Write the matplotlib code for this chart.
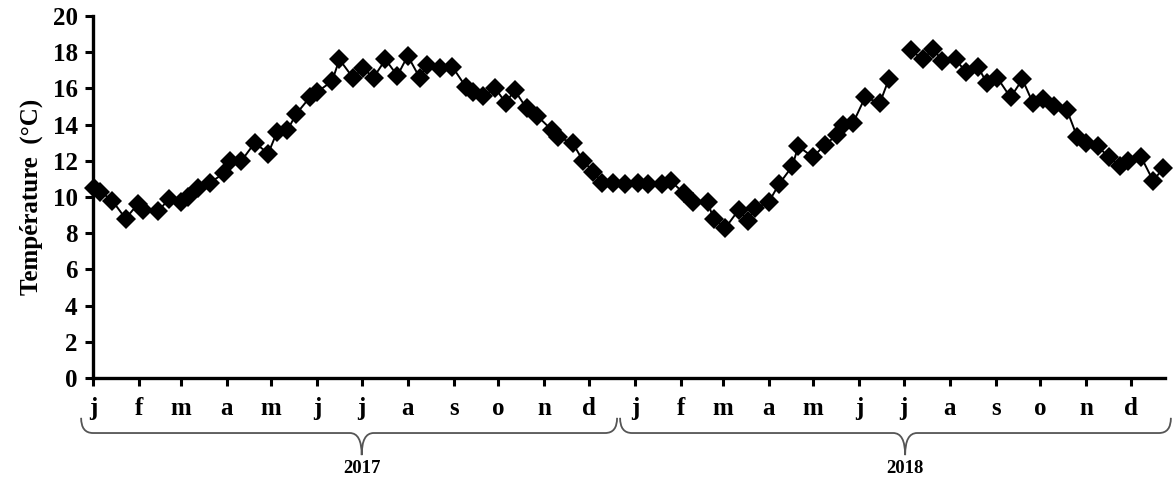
import matplotlib
matplotlib.use("Agg")
import matplotlib.pyplot as plt
import matplotlib.dates as mdates
import matplotlib.transforms as mtransforms
from matplotlib.path import Path
from matplotlib.patches import PathPatch
import numpy as np
import pandas as pd

# sampling day (days since 1 Jan 2017) and water temperature (degC)
start = pd.Timestamp("2017-01-01")
day = [1, 5, 13, 22, 30, 34, 44, 51, 59, 64, 71, 79, 88, 92, 100, 109, 118, 124,
       131, 137, 146, 151, 161, 166, 175, 182, 189, 197, 205, 212, 220, 225, 234,
       242, 251, 256, 263, 271, 278, 284, 292, 299, 309, 313, 323, 330, 337, 343,
       350, 358, 367, 374, 383, 389, 398, 404, 414, 418, 426, 435, 441, 446, 455,
       462, 471, 475, 485, 493, 501, 505, 512, 520, 530, 536, 551, 559, 566, 572,
       581, 588, 596, 602, 609, 618, 626, 633, 640, 647, 656, 663, 669, 677, 684,
       692, 697, 706, 714, 721]
temp = [10.5, 10.3, 9.8, 8.8, 9.6, 9.3, 9.2, 9.9, 9.7, 10.0, 10.5, 10.8, 11.3,
        12.0, 12.0, 13.0, 12.4, 13.6, 13.7, 14.6, 15.5, 15.8, 16.4, 17.6, 16.6,
        17.1, 16.6, 17.6, 16.7, 17.8, 16.6, 17.3, 17.1, 17.2, 16.1, 15.8, 15.6,
        16.0, 15.2, 15.9, 14.9, 14.5, 13.7, 13.3, 13.0, 12.0, 11.4, 10.8, 10.8,
        10.7, 10.8, 10.7, 10.7, 10.9, 10.2, 9.7, 9.7, 8.8, 8.3, 9.3, 8.7, 9.4,
        9.7, 10.7, 11.7, 12.8, 12.2, 12.9, 13.4, 14.0, 14.1, 15.5, 15.2, 16.5,
        18.1, 17.6, 18.2, 17.5, 17.6, 16.9, 17.2, 16.3, 16.6, 15.5, 16.5, 15.2,
        15.4, 15.0, 14.8, 13.3, 13.0, 12.8, 12.2, 11.7, 12.0, 12.2, 10.9, 11.6]

month_labels = list("jfmamjjasond") * 2
years = ["2017", "2018"]
year_spans = [("2016-12-24", "2017-07-01", "2017-12-20"),
              ("2017-12-22", "2018-07-02", "2018-12-28")]

plt.rcParams["font.family"] = ["Liberation Serif", "DejaVu Serif"]
plt.rcParams["font.weight"] = "bold"

fig = plt.figure(figsize=(11.74, 4.83), dpi=100)
ax = fig.add_axes([0.0792, 0.2174, 0.9131, 0.7495])

day = np.array(day)
temp = np.array(temp)
t = start + pd.to_timedelta(day, unit="D")

# break the line where a sample is missing
gaps = np.where(np.diff(day) > 12)[0]
for seg in np.split(np.arange(len(day)), gaps + 1):
    ax.plot(t[seg], temp[seg], color="black", lw=1.4, marker="D", ms=10,
            markeredgewidth=0, clip_on=False, zorder=3)

ax.set_ylim(0, 20)
ax.set_yticks(range(0, 21, 2))
ax.set_xlim(start, start + pd.Timedelta(days=722))
month_ticks = pd.date_range("2017-01-01", "2018-12-01", freq="MS")
ax.set_xticks(month_ticks)
ax.set_xticklabels(month_labels)

for side in ["top", "right"]:
    ax.spines[side].set_visible(False)
for side in ["left", "bottom"]:
    ax.spines[side].set_linewidth(2.4)
ax.tick_params(axis="both", width=2.2, length=6, labelsize=18)
ax.tick_params(axis="x", pad=8)
ax.tick_params(axis="y", pad=5)
ax.set_ylabel("Température  (°C)", fontsize=18, fontweight="bold", labelpad=7)

# year braces under the month labels
trans = mtransforms.blended_transform_factory(ax.transData, ax.transAxes)
y_end, y_line, y_tip = -0.110, -0.152, -0.213
for label, (a, m, b) in zip(years, year_spans):
    x0 = mdates.date2num(pd.Timestamp(a))
    xm = mdates.date2num(pd.Timestamp(m))
    x1 = mdates.date2num(pd.Timestamp(b))
    r = 8
    verts = [(x0, y_end), (x0, y_line), (x0 + r, y_line),
             (xm - r, y_line),
             (xm, y_line), (xm, y_tip),
             (xm, y_line), (xm + r, y_line),
             (x1 - r, y_line),
             (x1, y_line), (x1, y_end)]
    codes = [Path.MOVETO, Path.CURVE3, Path.CURVE3,
             Path.LINETO,
             Path.CURVE3, Path.CURVE3,
             Path.CURVE3, Path.CURVE3,
             Path.LINETO,
             Path.CURVE3, Path.CURVE3]
    patch = PathPatch(Path(verts, codes), transform=trans, fill=False,
                      edgecolor="#555555", lw=1.3, clip_on=False)
    ax.add_patch(patch)
    ax.text(xm, -0.250, label, transform=trans, ha="center", va="center",
            fontsize=13.5, fontweight="bold")

fig.savefig("out.png", dpi=100)
